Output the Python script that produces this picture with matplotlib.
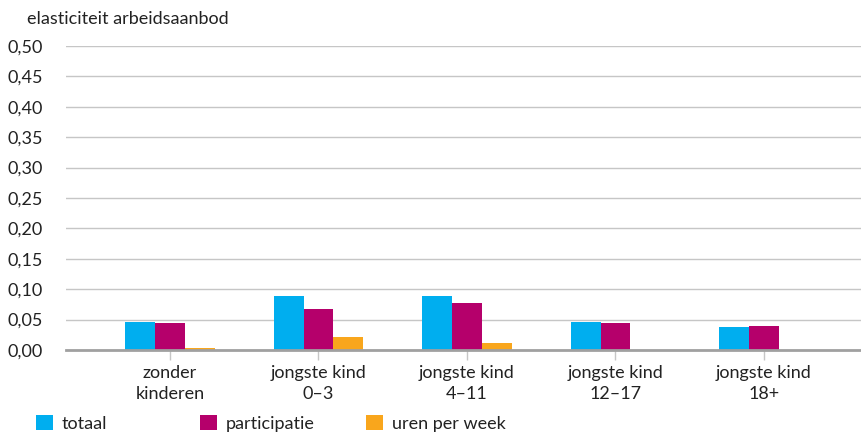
import matplotlib.pyplot as plt
import numpy as np
from matplotlib.patches import Patch

plt.rcParams['font.family'] = ['Lato', 'DejaVu Sans']
plt.rcParams['font.size'] = 13

# elasticity per household group
groups = ['zonder\nkinderen', 'jongste kind\n0–3', 'jongste kind\n4–11',
          'jongste kind\n12–17', 'jongste kind\n18+']
totaal = [0.046, 0.088, 0.088, 0.046, 0.038]
participatie = [0.045, 0.067, 0.077, 0.045, 0.039]
uren = [0.003, 0.021, 0.012, 0.0, 0.0]
series_names = ['totaal', 'participatie', 'uren per week']
colors = ['#00aeef', '#b5006b', '#f9a61c']
yticks = np.arange(0, 0.51, 0.05)

fig = plt.figure(figsize=(8.62, 4.32), dpi=100)
ax = fig.add_axes([0.0766, 0.19, 0.9234, 0.7035])

x = np.arange(len(groups))
w = 0.2
for i, (vals, c) in enumerate(zip([totaal, participatie, uren], colors)):
    ax.bar(x + (i - 1) * w, vals, width=w, color=c, zorder=3)

ax.set_xlim(-0.70, 4.66)
ax.set_ylim(0, 0.5)
ax.set_yticks(yticks)
ax.set_yticklabels([f'{v:.2f}'.replace('.', ',') for v in yticks])
ax.set_xticks(x)
ax.set_xticklabels(groups, linespacing=1.4)

ax.grid(axis='y', color='#c6c6c6', linewidth=1, zorder=0)
for s in ['top', 'right', 'left']:
    ax.spines[s].set_visible(False)
ax.spines['bottom'].set_color('#a0a0a0')
ax.spines['bottom'].set_linewidth(2)
ax.spines['bottom'].set_zorder(4)

ax.tick_params(axis='y', length=0, pad=42, labelcolor='#222222')
for lab in ax.get_yticklabels():
    lab.set_ha('left')
ax.tick_params(axis='x', length=7, width=1, color='#c6c6c6', pad=4,
               labelcolor='#222222')

fig.text(0.031, 0.957, 'elasticiteit arbeidsaanbod', ha='left', va='center',
         color='#222222')

# legend entries sit in fixed-width columns along the bottom
legend_x = [0.029, 0.219, 0.412]
for c, n, lx in zip(colors, series_names, legend_x):
    leg = fig.legend(handles=[Patch(facecolor=c, label=n)], loc='lower left',
                     bbox_to_anchor=(lx, -0.024), frameon=False,
                     handlelength=0.95, handleheight=0.95, handletextpad=0.5,
                     borderaxespad=0.2, labelcolor='#222222')

fig.savefig('out.png', dpi=100)
